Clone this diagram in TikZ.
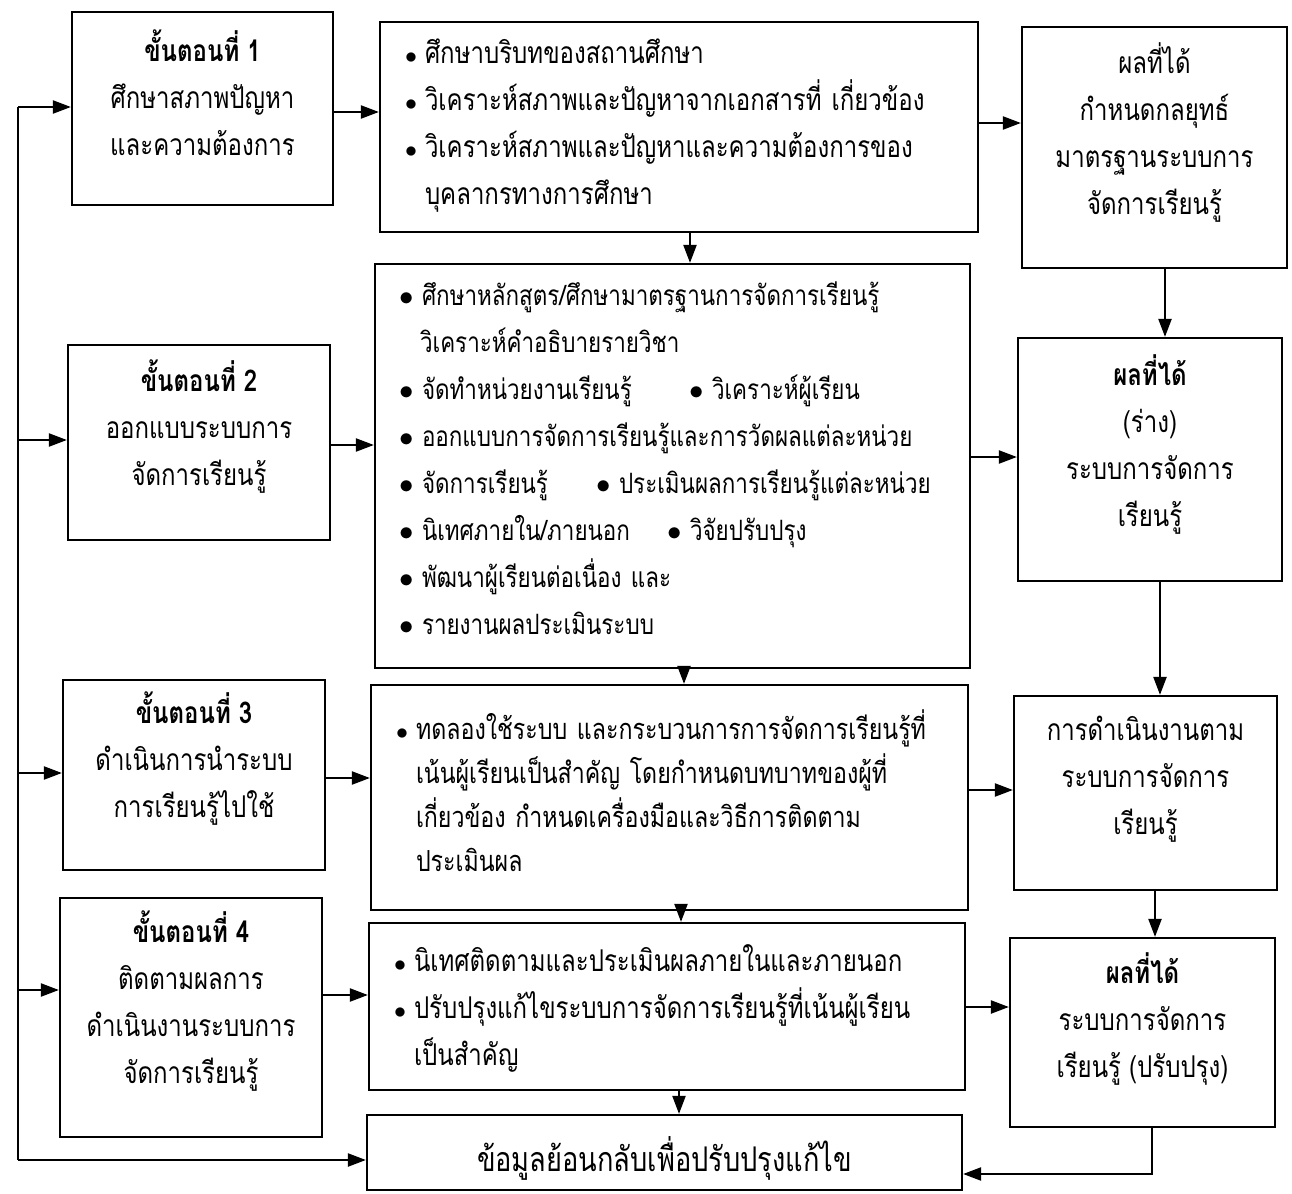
\documentclass[tikz,border=0pt]{standalone}
\usepackage{fontspec}
\setmainfont[Script=Thai,FakeStretch=0.8]{Loma}
\usetikzlibrary{arrows.meta}

\newcommand{\sbul}{\makebox[10pt][l]{\fontsize{12pt}{12pt}\selectfont$\bullet$}}
\newcommand{\bbul}{\makebox[11pt][l]{\hspace*{-0.5pt}\fontsize{15pt}{15pt}\selectfont$\bullet$}}
\newcommand{\bind}{\hspace*{10pt}}

\begin{document}
\begin{tikzpicture}[x=0.5pt,y=-0.5pt,line width=1.1pt,
	>={Triangle[length=9pt,width=6.5pt]},
	stepbox/.style={draw,inner sep=0pt},
	steptext/.style={align=center,inner sep=0pt,font=\fontsize{15pt}{23.5pt}\selectfont},
	listtext/.style={align=left,inner sep=0pt,font=\fontsize{15pt}{23.5pt}\selectfont}]
	\useasboundingbox (0,0) rectangle (1292,1194);

	\node[stepbox,minimum width=130.5pt,minimum height=96.5pt] (S1) at (202.5,108.5) {};
	\node[stepbox,minimum width=131pt,minimum height=97.5pt] (S2) at (199,442.5) {};
	\node[stepbox,minimum width=131pt,minimum height=95pt] (S3) at (194,775) {};
	\node[stepbox,minimum width=131pt,minimum height=119.5pt] (S4) at (191,1017.5) {};
	\node[stepbox,minimum width=299pt,minimum height=105pt] (M1) at (679,127) {};
	\node[stepbox,minimum width=297.5pt,minimum height=202pt] (M2) at (672.5,466) {};
	\node[stepbox,minimum width=298.5pt,minimum height=112.5pt] (M3) at (669.5,797.5) {};
	\node[stepbox,minimum width=298pt,minimum height=83.5pt] (M4) at (667,1006.5) {};
	\node[stepbox,minimum width=297.5pt,minimum height=37.5pt] (FB) at (664.5,1152.5) {};
	\node[stepbox,minimum width=132.5pt,minimum height=120.5pt] (R1) at (1154.5,147.5) {};
	\node[stepbox,minimum width=132pt,minimum height=121.5pt] (R2) at (1150,459.5) {};
	\node[stepbox,minimum width=131.5pt,minimum height=97pt] (R3) at (1145.5,793) {};
	\node[stepbox,minimum width=132.5pt,minimum height=94.5pt] (R4) at (1142.5,1032.5) {};

	\node[steptext] (S1t) at ([yshift=8pt]S1.center) {\textbf{ขั้นตอนที่ 1}\\ศึกษาสภาพปัญหา\\และความต้องการ};
	\node[steptext] (S2t) at ([yshift=8pt]S2.center) {\textbf{ขั้นตอนที่ 2}\\ออกแบบระบบการ\\จัดการเรียนรู้};
	\node[steptext] (S3t) at ([yshift=8pt]S3.center) {\textbf{ขั้นตอนที่ 3}\\ดำเนินการนำระบบ\\การเรียนรู้ไปใช้};
	\node[steptext] (S4t) at ([yshift=8pt]S4.center) {\textbf{ขั้นตอนที่ 4}\\ติดตามผลการ\\ดำเนินงานระบบการ\\จัดการเรียนรู้};

	\node[listtext,text width=274pt] (M1t) at ([yshift=0.5pt]M1.center) {\sbul ศึกษาบริบทของสถานศึกษา\\\sbul วิเคราะห์สภาพและปัญหาจากเอกสารที่ เกี่ยวข้อง\\\sbul วิเคราะห์สภาพและปัญหาและความต้องการของ\\\bind บุคลากรทางการศึกษา};
	\node[listtext,text width=272.5pt,font=\fontsize{14pt}{23.5pt}\selectfont] (M2t) at ([yshift=4pt]M2.center) {\bbul ศึกษาหลักสูตร/ศึกษามาตรฐานการจัดการเรียนรู้\\\bind วิเคราะห์คำอธิบายรายวิชา\\\makebox[145pt][l]{\bbul จัดทำหน่วยงานเรียนรู้}\bbul วิเคราะห์ผู้เรียน\\\bbul ออกแบบการจัดการเรียนรู้และการวัดผลแต่ละหน่วย\\\makebox[98.5pt][l]{\bbul จัดการเรียนรู้}\bbul ประเมินผลการเรียนรู้แต่ละหน่วย\\\makebox[134pt][l]{\bbul นิเทศภายใน/ภายนอก}\bbul วิจัยปรับปรุง\\\bbul พัฒนาผู้เรียนต่อเนื่อง และ\\\bbul รายงานผลประเมินระบบ};
	\node[listtext,text width=273.5pt,font=\fontsize{14.5pt}{22pt}\selectfont] (M3t) at ([yshift=3.5pt]M3.center) {\mbox{\sbul ทดลองใช้ระบบ และกระบวนการการจัดการเรียนรู้ที่}\\\mbox{\bind เน้นผู้เรียนเป็นสำคัญ โดยกำหนดบทบาทของผู้ที่}\\\mbox{\bind เกี่ยวข้อง กำหนดเครื่องมือและวิธีการติดตาม}\\\bind ประเมินผล};
	\node[listtext,text width=273pt] (M4t) at ([yshift=-1pt]M4.center) {\sbul นิเทศติดตามและประเมินผลภายในและภายนอก\\\sbul ปรับปรุงแก้ไขระบบการจัดการเรียนรู้ที่เน้นผู้เรียน\\\bind เป็นสำคัญ};
	\node[steptext,font=\fontsize{17pt}{22pt}\selectfont] (FBt) at ([yshift=-3pt]FB.center) {ข้อมูลย้อนกลับเพื่อปรับปรุงแก้ไข};

	\node[steptext] (R1t) at ([yshift=7.5pt]R1.center) {ผลที่ได้\\กำหนดกลยุทธ์\\มาตรฐานระบบการ\\จัดการเรียนรู้};
	\node[steptext] (R2t) at ([yshift=7.5pt]R2.center) {\textbf{ผลที่ได้}\\(ร่าง)\\ระบบการจัดการ\\เรียนรู้};
	\node[steptext] (R3t) at ([yshift=7pt]R3.center) {การดำเนินงานตาม\\ระบบการจัดการ\\เรียนรู้};
	\node[steptext] (R4t) at ([yshift=7pt]R4.center) {\textbf{ผลที่ได้}\\ระบบการจัดการ\\เรียนรู้ (ปรับปรุง)};

	\draw[->] (S1.east |- 0,112) -- (M1.west |- 0,112);
	\draw[->] (S2.east |- 0,445) -- (M2.west |- 0,445);
	\draw[->] (S3.east |- 0,778) -- (M3.west |- 0,778);
	\draw[->] (S4.east |- 0,995) -- (M4.west |- 0,995);
	\draw[->] (M1.east |- 0,123) -- (R1.west |- 0,123);
	\draw[->] (M2.east |- 0,457) -- (R2.west |- 0,457);
	\draw[->] (M3.east |- 0,790) -- (R3.west |- 0,790);
	\draw[->] (M4.east |- 0,1007) -- (R4.west |- 0,1007);
	\draw[->] (M1.south -| 690,0) -- (M2.north -| 690,0);
	\draw[->] (M2.south -| 684,0) -- (M3.north -| 684,0);
	\draw[->] (M3.south -| 681,0) -- (M4.north -| 681,0);
	\draw[->] (M4.south -| 679,0) -- (FB.north -| 679,0);
	\draw[->] (R1.south -| 1165,0) -- (R2.north -| 1165,0);
	\draw[->] (R2.south -| 1160,0) -- (R3.north -| 1160,0);
	\draw[->] (R3.south -| 1155,0) -- (R4.north -| 1155,0);
	\draw[->] (R4.south -| 1152,0) |- (FB.east |- 0,1174);

	\coordinate (fbtop) at (18,107);
	\coordinate (fbbot) at (18,1160);
	\draw (fbtop) -- (fbbot);
	\draw[->] (fbtop) -- (S1.west |- fbtop);
	\draw[->] (fbtop |- 0,440) -- (S2.west |- 0,440);
	\draw[->] (fbtop |- 0,773) -- (S3.west |- 0,773);
	\draw[->] (fbtop |- 0,990) -- (S4.west |- 0,990);
	\draw[->] (fbbot) -- (FB.west |- fbbot);
\end{tikzpicture}
\end{document}
